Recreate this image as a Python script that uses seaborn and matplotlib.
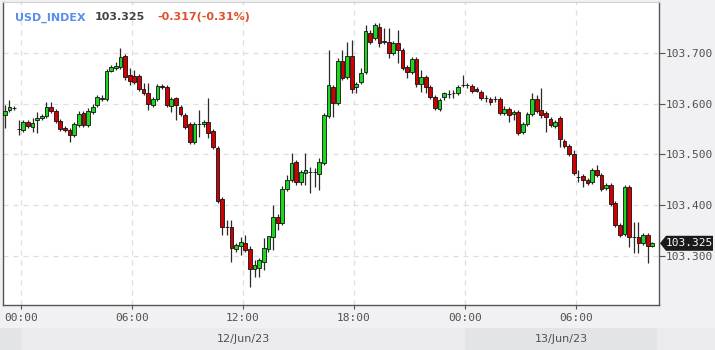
import numpy as np
import pandas as pd
import matplotlib
matplotlib.use("Agg")
import matplotlib.pyplot as plt
import matplotlib.transforms as mtransforms
from matplotlib.patches import Polygon, Rectangle
import seaborn as sns

# ---------------- data (15-minute bars, USD_INDEX) ----------------
opens = [103.578, 103.588, 103.592, 103.550, 103.548, 103.564, 103.554, 103.568, 103.572, 103.576,
         103.594, 103.586, 103.566, 103.552, 103.548, 103.538, 103.558, 103.582, 103.558, 103.584,
         103.598, 103.609, 103.609, 103.665, 103.670, 103.672, 103.694, 103.657, 103.655, 103.655,
         103.629, 103.621, 103.598, 103.609, 103.635, 103.633, 103.596, 103.611, 103.594, 103.578,
         103.560, 103.525, 103.560, 103.560, 103.564, 103.546, 103.513, 103.412, 103.357, 103.357,
         103.314, 103.320, 103.326, 103.314, 103.274, 103.276, 103.288, 103.314, 103.337, 103.377,
         103.365, 103.432, 103.450, 103.485, 103.446, 103.463, 103.465, 103.465, 103.462, 103.483,
         103.576, 103.633, 103.602, 103.684, 103.653, 103.694, 103.633, 103.643, 103.663, 103.739,
         103.730, 103.751, 103.722, 103.722, 103.700, 103.720, 103.706, 103.672, 103.663, 103.688,
         103.639, 103.653, 103.633, 103.613, 103.590, 103.613, 103.619, 103.621, 103.621, 103.637,
         103.637, 103.635, 103.629, 103.623, 103.611, 103.609, 103.609, 103.609, 103.582, 103.590,
         103.580, 103.584, 103.544, 103.560, 103.580, 103.609, 103.588, 103.582, 103.570, 103.556,
         103.572, 103.527, 103.517, 103.501, 103.456, 103.458, 103.450, 103.446, 103.469, 103.460,
         103.434, 103.440, 103.404, 103.361, 103.343, 103.436, 103.337, 103.337, 103.326, 103.341,
         103.320]
highs = [103.598, 103.607, 103.596, 103.568, 103.568, 103.568, 103.572, 103.584, 103.580, 103.603,
         103.603, 103.590, 103.570, 103.556, 103.552, 103.564, 103.586, 103.586, 103.592, 103.600,
         103.617, 103.617, 103.668, 103.676, 103.682, 103.710, 103.698, 103.670, 103.667, 103.659,
         103.641, 103.641, 103.613, 103.639, 103.639, 103.637, 103.613, 103.613, 103.598, 103.582,
         103.564, 103.564, 103.588, 103.568, 103.611, 103.550, 103.517, 103.416, 103.371, 103.371,
         103.326, 103.337, 103.341, 103.320, 103.292, 103.296, 103.336, 103.332, 103.400, 103.383,
         103.438, 103.460, 103.503, 103.489, 103.469, 103.503, 103.475, 103.473, 103.493, 103.582,
         103.706, 103.637, 103.690, 103.706, 103.722, 103.726, 103.643, 103.670, 103.755, 103.745,
         103.759, 103.759, 103.749, 103.749, 103.724, 103.745, 103.710, 103.676, 103.692, 103.692,
         103.667, 103.657, 103.637, 103.617, 103.611, 103.623, 103.627, 103.627, 103.637, 103.657,
         103.641, 103.639, 103.633, 103.627, 103.617, 103.613, 103.615, 103.613, 103.596, 103.594,
         103.588, 103.588, 103.564, 103.584, 103.621, 103.617, 103.631, 103.586, 103.574, 103.568,
         103.576, 103.531, 103.521, 103.509, 103.469, 103.462, 103.454, 103.473, 103.479, 103.463,
         103.444, 103.444, 103.408, 103.365, 103.440, 103.440, 103.367, 103.367, 103.345, 103.345,
         103.328]
lows = [103.552, 103.584, 103.588, 103.538, 103.544, 103.552, 103.544, 103.542, 103.568, 103.572,
        103.582, 103.562, 103.546, 103.544, 103.525, 103.535, 103.554, 103.554, 103.554, 103.580,
        103.594, 103.605, 103.605, 103.663, 103.667, 103.668, 103.647, 103.637, 103.639, 103.625,
        103.617, 103.588, 103.594, 103.605, 103.629, 103.594, 103.584, 103.568, 103.576, 103.550,
        103.521, 103.521, 103.535, 103.554, 103.533, 103.511, 103.404, 103.341, 103.341, 103.288,
        103.308, 103.302, 103.308, 103.239, 103.259, 103.259, 103.272, 103.308, 103.312, 103.351,
        103.361, 103.428, 103.446, 103.440, 103.440, 103.440, 103.424, 103.436, 103.430, 103.479,
        103.572, 103.574, 103.598, 103.647, 103.649, 103.621, 103.621, 103.639, 103.659, 103.718,
        103.726, 103.712, 103.718, 103.690, 103.696, 103.680, 103.667, 103.651, 103.659, 103.633,
        103.623, 103.621, 103.609, 103.588, 103.586, 103.607, 103.611, 103.611, 103.617, 103.633,
        103.631, 103.621, 103.623, 103.607, 103.603, 103.598, 103.603, 103.578, 103.578, 103.564,
        103.568, 103.538, 103.540, 103.556, 103.576, 103.582, 103.572, 103.544, 103.554, 103.552,
        103.515, 103.513, 103.497, 103.460, 103.446, 103.436, 103.440, 103.442, 103.456, 103.428,
        103.430, 103.399, 103.357, 103.337, 103.339, 103.318, 103.306, 103.306, 103.322, 103.286,
        103.318]
closes = [103.586, 103.594, 103.592, 103.550, 103.564, 103.556, 103.562, 103.572, 103.576, 103.594,
          103.586, 103.566, 103.550, 103.548, 103.538, 103.560, 103.580, 103.558, 103.586, 103.594,
          103.613, 103.611, 103.665, 103.672, 103.674, 103.692, 103.653, 103.645, 103.643, 103.629,
          103.621, 103.600, 103.609, 103.635, 103.633, 103.598, 103.609, 103.598, 103.580, 103.554,
          103.525, 103.560, 103.560, 103.564, 103.542, 103.515, 103.408, 103.357, 103.357, 103.316,
          103.322, 103.328, 103.312, 103.274, 103.282, 103.292, 103.316, 103.339, 103.377, 103.365,
          103.432, 103.450, 103.483, 103.446, 103.465, 103.469, 103.465, 103.465, 103.485, 103.578,
          103.637, 103.602, 103.684, 103.651, 103.694, 103.629, 103.639, 103.661, 103.743, 103.722,
          103.755, 103.720, 103.724, 103.700, 103.720, 103.706, 103.670, 103.663, 103.688, 103.639,
          103.653, 103.633, 103.613, 103.592, 103.607, 103.621, 103.619, 103.621, 103.633, 103.637,
          103.637, 103.625, 103.625, 103.611, 103.611, 103.603, 103.609, 103.582, 103.590, 103.578,
          103.584, 103.542, 103.560, 103.580, 103.609, 103.586, 103.578, 103.574, 103.558, 103.564,
          103.531, 103.517, 103.501, 103.463, 103.456, 103.450, 103.444, 103.469, 103.460, 103.432,
          103.440, 103.403, 103.361, 103.341, 103.436, 103.337, 103.337, 103.326, 103.341, 103.320,
          103.325]

first_bar_hour = -0.875      # centre of first 15-min bar, hours from 12/Jun/23 00:00
bar_step_hours = 0.25
x_tick_hours = [0, 6, 12, 18, 24, 30]
x_tick_labels = ["00:00", "06:00", "12:00", "18:00", "00:00", "06:00"]
y_ticks = [103.3, 103.4, 103.5, 103.6, 103.7]
y_tick_labels = ["103.300", "103.400", "103.500", "103.600", "103.700"]
day_start_hours = [0, 24]
day_labels = ["12/Jun/23", "13/Jun/23"]
symbol = "USD_INDEX"
last_price = 103.325
change_text = "-0.317(-0.31%)"

# ---------------- build frame ----------------
n = len(opens)
df = pd.DataFrame({
    "t": first_bar_hour + bar_step_hours * np.arange(n),
    "open": opens, "high": highs, "low": lows, "close": closes,
})
df["up"] = df["close"] >= df["open"]
df["body_lo"] = df[["open", "close"]].min(axis=1)
df["body_h"] = (df["close"] - df["open"]).abs()

GREEN = "#1fd61f"
RED = "#d00000"
BG = "#f1f1f3"
MONO = ["DejaVu Sans Mono"]

sns.set_theme(style="white")
plt.rcParams["font.family"] = ["DejaVu Sans"]

W, H = 715, 350
fig = plt.figure(figsize=(W / 100, H / 100), dpi=100, facecolor=BG)
ax = fig.add_axes([3 / W, 1 - 305 / H, 656 / W, 303 / H])
ax.set_facecolor("white")

# wicks
ax.vlines(df["t"], df["low"], df["high"], color="#2a2a2a", lw=0.9, zorder=2)

# bodies
for up, col in [(True, GREEN), (False, RED)]:
    sub = df[df["up"] == up].reset_index(drop=True)
    sns.barplot(data=sub, x="t", y="body_h", native_scale=True,
                bottom=sub["body_lo"].values, color=col, saturation=1,
                width=0.8, errorbar=None, edgecolor="#111111", linewidth=0.6,
                ax=ax, zorder=3)

ax.set_xlim(-0.973, 34.486)
ax.set_ylim(103.2034, 103.8005)
ax.set_xlabel("")
ax.set_ylabel("")

ax.set_xticks(x_tick_hours)
ax.set_xticklabels(x_tick_labels, fontfamily=MONO)
ax.set_yticks(y_ticks)
ax.set_yticklabels(y_tick_labels, fontfamily=MONO)
ax.grid(True, color="#dedede", lw=0.9, ls=(0, (4, 4)), zorder=0)
ax.set_axisbelow(True)

ax.yaxis.tick_right()
ax.tick_params(axis="y", which="both", right=True, left=False, length=4, width=0.8,
               color="#555555", labelcolor="#505050", labelsize=8, pad=1)
ax.tick_params(axis="x", which="both", bottom=True, length=3, width=0.8,
               color="#555555", labelcolor="#505050", labelsize=8, pad=3)
for s in ["left", "bottom", "right"]:
    ax.spines[s].set_color("#555555")
    ax.spines[s].set_linewidth(1.0)
ax.spines["top"].set_color("#d0d0d0")
ax.spines["top"].set_linewidth(0.8)

# date band
band_h = 22 / H
blend = mtransforms.blended_transform_factory(ax.transData, fig.transFigure)
fig.patches.append(Rectangle((0, 0), 1, band_h, transform=fig.transFigure,
                             facecolor="#ebebee", edgecolor="none", zorder=0))
fig.patches.append(Rectangle((-2.0, 0), 2.0 + day_start_hours[0], band_h, transform=blend,
                             facecolor="#e3e4e7", edgecolor="none", zorder=1))
x_edges = day_start_hours + [34.37]
band_cols = ["#ebebee", "#e3e4e7"]
for i, lab in enumerate(day_labels):
    r = Rectangle((x_edges[i], 0), x_edges[i + 1] - x_edges[i], band_h, transform=blend,
                  facecolor=band_cols[i], edgecolor="none", zorder=1)
    fig.patches.append(r)
    fig.text((x_edges[i] + x_edges[i + 1]) / 2, band_h / 2, lab, transform=blend,
             ha="center", va="center", fontsize=8, color="#505050")

# title
ty = 1 - 20.5 / H
fig.text(15 / W, ty, symbol, fontsize=8, fontweight="bold", color="#5b8def", va="baseline")
fig.text(95 / W, ty, f"{last_price:.3f}", fontsize=8, fontweight="bold", color="#444444",
         va="baseline")
fig.text(157 / W, ty, change_text, fontsize=8, fontweight="bold", color="#e0502a",
         va="baseline")

# last price marker
yblend = mtransforms.blended_transform_factory(fig.transFigure, ax.transData)
hh = 7.5 / 507.5
poly = Polygon([(660 / W, last_price), (666 / W, last_price + hh), (713 / W, last_price + hh),
                (713 / W, last_price - hh), (666 / W, last_price - hh)], closed=True,
               transform=yblend, facecolor="#1a1a1a", edgecolor="none", clip_on=False,
               zorder=10)
fig.patches.append(poly)
fig.text(689.5 / W, last_price, f"{last_price:.3f}", transform=yblend, ha="center",
         va="center", fontsize=8, color="white", family=MONO, zorder=11)

fig.savefig("out.png", dpi=100, facecolor=BG)
